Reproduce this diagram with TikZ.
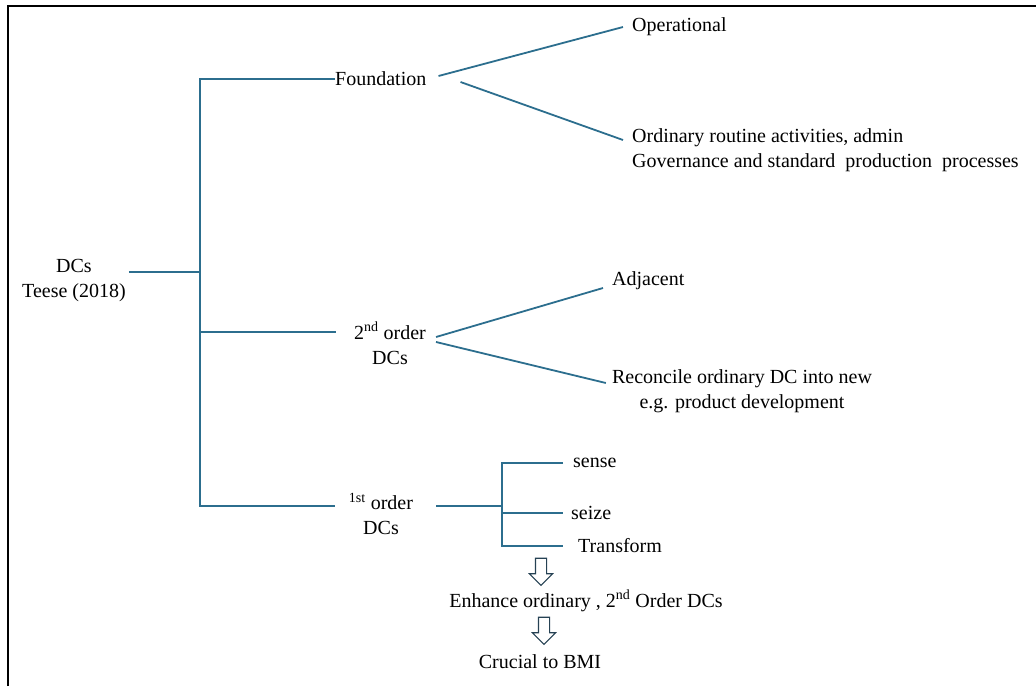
\documentclass[tikz,border=0pt]{standalone}
\usepackage{fontspec}
\setmainfont{Liberation Serif}
\usetikzlibrary{positioning, shapes.arrows}

\definecolor{branchblue}{RGB}{44,110,142}
\definecolor{arrowgrey}{RGB}{38,66,84}

\begin{document}
\begin{tikzpicture}[x=1pt, y=-1pt,
    every node/.style={font=\fontsize{20}{25}\selectfont, inner sep=0pt},
    link/.style={draw=branchblue, line width=1.8pt},
    leaf/.style={anchor=west, align=left},
    hollow/.style={single arrow, draw=arrowgrey, fill=white, line width=1.1pt, shape border rotate=270,
      minimum height=27pt, single arrow head extend=6pt, inner sep=5pt}]
    \useasboundingbox (0,0) rectangle (1036,686);
    % frame (cut off at right and bottom)
    \draw[line width=2pt] (8,686) -- (8,6) -- (1036,6);

    % root and first level
    \node[align=center] (dcs) at (74,281) {DCs\\Teese (2018)};
    \node[anchor=west] (found) at (335,79) {Foundation};
    \node[align=center] (second) at (390,343) {2\textsuperscript{nd} order\\DCs};
    \node[align=center] (first) at (381,514) {\textsuperscript{1st} order\\DCs};
    \coordinate (trunk) at (200,272);
    \coordinate (mid2) at (336,332);
    \coordinate (mid1) at (335,506);
    \draw[link] ([xshift=3pt]dcs.east |- trunk) -- (trunk);
    \draw[link] (found.west) -| (trunk) |- (mid1);
    \draw[link] (trunk |- mid2) -- (mid2);

    % Foundation
    \node[leaf] (oper) at (632,27) {Operational};
    \node[leaf] (ordin) at (632,150) {Ordinary routine activities, admin\\Governance and standard~ production~ processes};
    \draw[link] ([shift={(12,-3)}]found.east) -- ([xshift=-9pt]oper.west);
    \draw[link] ([shift={(34,3)}]found.east) -- ([shift={(-9,-10)}]ordin.west);

    % 2nd order
    \node[leaf] (adj) at (612,281) {Adjacent};
    \node[align=center] (recon) at (742,391) {Reconcile ordinary DC into new\\e.g. product development};
    \draw[link] ([shift={(10,-6)}]second.east) -- ([shift={(-9,7)}]adj.west);
    \draw[link] ([shift={(10,-1)}]second.east) -- ([shift={(-6,-8)}]recon.west);

    % 1st order
    \node[leaf] (sense) at (573,463) {sense};
    \node[leaf] (seize) at (571,513) {seize};
    \node[leaf] (transf) at (578,546) {Transform};
    \coordinate (fork) at (502,506);
    \draw[link] ([shift={(23,-8)}]first.east) -- (fork);
    \draw[link] ([xshift=-10pt]sense.west) -- (sense -| fork) -- (transf -| fork) -- ([xshift=-15pt]transf.west);
    \draw[link] (fork |- seize) -- ([xshift=-8pt]seize.west);

    % outcome
    \node[hollow] (arr1) at (541,569) {};
    \node (enh) at (586,601) {Enhance ordinary , 2\textsuperscript{nd} Order DCs};
    \node[hollow] (arr2) at (544,628) {};
    \node (bmi) at (540,662) {Crucial to BMI};
\end{tikzpicture}
\end{document}
